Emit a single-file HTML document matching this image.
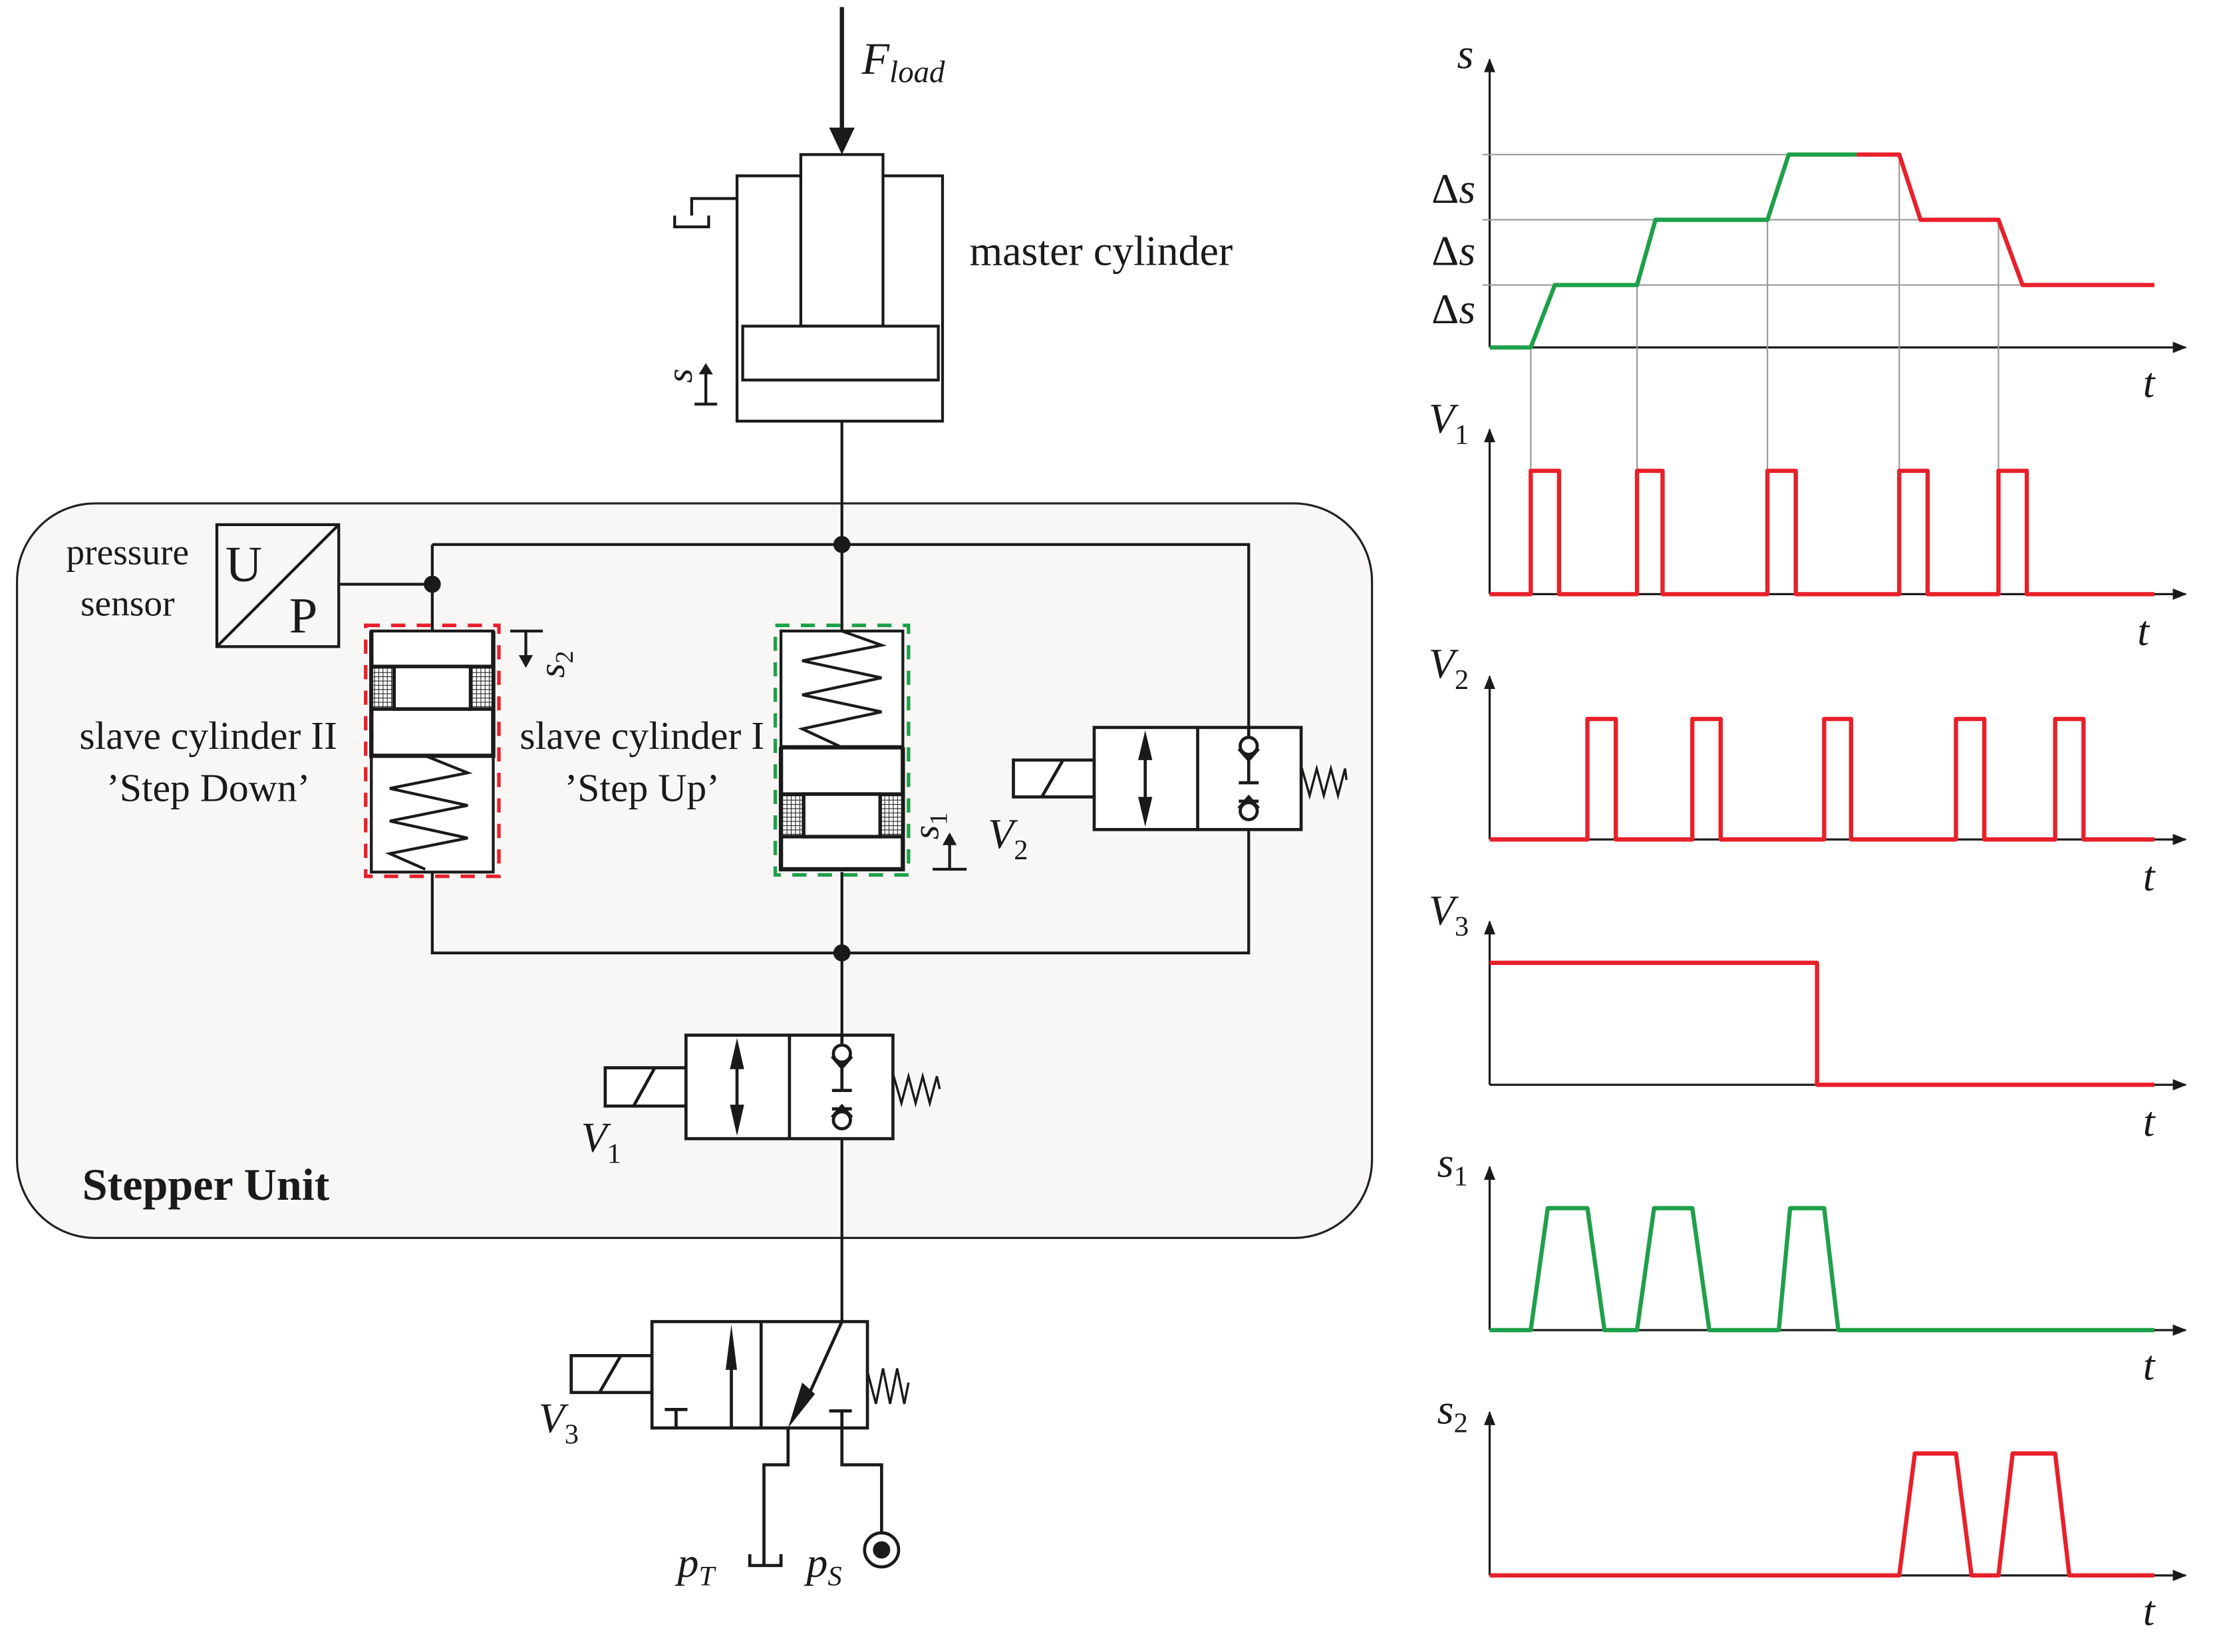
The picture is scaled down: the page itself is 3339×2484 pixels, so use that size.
<!DOCTYPE html>
<html><head><meta charset="utf-8"><style>html,body{margin:0;padding:0;background:#fff}svg{display:block}</style></head>
<body>
<svg width="3339" height="2484" viewBox="0 0 1567 1165" preserveAspectRatio="none" xmlns="http://www.w3.org/2000/svg" font-family="Liberation Serif, serif" fill="none" stroke="#1a1a1a" stroke-width="2">
<defs>
<pattern id="h" width="3" height="3" patternUnits="userSpaceOnUse"><rect width="3" height="3" fill="#fff" stroke="none"/><path d="M0 0H3M0 0V3" stroke="#222" stroke-width="1"/></pattern>
<marker id="a" markerWidth="10" markerHeight="10" refX="9" refY="5" orient="auto" markerUnits="userSpaceOnUse"><path d="M0 1L10 5L0 9z" fill="#1a1a1a" stroke="none"/></marker>
</defs>
<rect x="12" y="355" width="956" height="518" rx="55" fill="#f8f7f5" stroke="#222" stroke-width="1.5"/>
<line x1="594" y1="5" x2="594" y2="92" stroke-width="3"/>
<path d="M585 90L603 90L594 109z" fill="#1a1a1a" stroke="none"/>
<text x="608" y="52" font-size="32" font-style="italic" fill="#1a1a1a" stroke="none">F<tspan font-size="22" dy="6">load</tspan></text>
<rect x="520" y="124" width="145" height="173" fill="#fff"/>
<rect x="565" y="109" width="58" height="121" fill="#fff"/>
<rect x="524" y="230" width="138" height="38" fill="#fff"/>
<path d="M520 140H488V152M476 152V160H500V152"/>
<path d="M490 285H506M498 285V262" />
<path d="M493 264L503 264L498 256z" fill="#1a1a1a" stroke="none"/>
<text x="0" y="0" font-size="26" font-style="italic" fill="#1a1a1a" stroke="none" transform="translate(488,270) rotate(-90)">s</text>
<text x="684" y="187" font-size="30" fill="#1a1a1a" stroke="none">master cylinder</text>
<path d="M594 297V445M305 384H881V513M881 585V672H305V615M305 445V384M239 412H305M594 615V730M594 803V932"/>
<circle cx="594" cy="384" r="5" fill="#1a1a1a"/>
<circle cx="594" cy="672" r="5" fill="#1a1a1a"/>
<circle cx="305" cy="412" r="5" fill="#1a1a1a"/>
<rect x="153" y="370" width="86" height="86"/>
<line x1="153" y1="456" x2="239" y2="370"/>
<text x="159" y="410" font-size="36" fill="#1a1a1a" stroke="none">U</text>
<text x="204" y="446" font-size="36" fill="#1a1a1a" stroke="none">P</text>
<text x="90" y="398" font-size="26" text-anchor="middle" fill="#1a1a1a" stroke="none">pressure</text>
<text x="90" y="434" font-size="26" text-anchor="middle" fill="#1a1a1a" stroke="none">sensor</text>
<rect x="262" y="445" width="86" height="170" fill="#fff"/>
<path d="M262 445V533H348V445" stroke-width="3"/>
<rect x="262" y="470" width="86" height="30" fill="url(#h)" stroke-width="2.5"/>
<rect x="278" y="470" width="54" height="30" fill="#fff" stroke-width="2.5"/>
<polyline points="300,533 330,545 275,556 330,568 275,579 330,591 275,602 300,613"/>
<rect x="258" y="441" width="94" height="177" stroke="#e8202a" stroke-width="2.5" stroke-dasharray="10,8"/>
<path d="M360 445H383M371 445V464"/>
<path d="M366 462L376 462L371 471z" fill="#1a1a1a" stroke="none"/>
<text font-size="26" font-style="italic" fill="#1a1a1a" stroke="none" transform="translate(398,478) rotate(-90)">s<tspan font-size="18" dy="6" font-style="normal">2</tspan></text>
<text x="147" y="528" font-size="28" text-anchor="middle" fill="#1a1a1a" stroke="none">slave cylinder II</text>
<text x="147" y="565" font-size="28" text-anchor="middle" fill="#1a1a1a" stroke="none">’Step Down’</text>
<rect x="551" y="445" width="86" height="168" fill="#fff"/>
<polyline points="594,445 622,455 566,466 622,478 566,490 622,502 566,514 594,527"/>
<path d="M551 527H637M551 527V613H637V527" stroke-width="3"/>
<rect x="551" y="560" width="86" height="30" fill="url(#h)" stroke-width="2.5"/>
<rect x="567" y="560" width="54" height="30" fill="#fff" stroke-width="2.5"/>
<rect x="547" y="441" width="94" height="176" stroke="#1ea04a" stroke-width="2.5" stroke-dasharray="10,8"/>
<path d="M658 613H682M670 613V594"/>
<path d="M665 596L675 596L670 587z" fill="#1a1a1a" stroke="none"/>
<text font-size="26" font-style="italic" fill="#1a1a1a" stroke="none" transform="translate(662,592) rotate(-90)">s<tspan font-size="18" dy="6" font-style="normal">1</tspan></text>
<text x="453" y="528" font-size="28" text-anchor="middle" fill="#1a1a1a" stroke="none">slave cylinder I</text>
<text x="453" y="565" font-size="28" text-anchor="middle" fill="#1a1a1a" stroke="none">’Step Up’</text>
<g stroke-width="2.2">
<rect x="715" y="536" width="57" height="26" fill="#fff"/><line x1="735" y1="562" x2="750" y2="536"/>
<rect x="772" y="513" width="146" height="72" fill="#fff"/><line x1="845" y1="513" x2="845" y2="585"/>
<line x1="808" y1="530" x2="808" y2="570"/>
<path d="M808 515L803 536L813 536z M808 583L803 562L813 562z" fill="#1a1a1a" stroke="none"/>
<path d="M881 513V519M881 533V552M874 552H888M874 565H888M881 565V579"/>
<circle cx="881" cy="526" r="6" fill="#fff"/><circle cx="881" cy="572" r="6" fill="#fff"/>
<path d="M874 528L881 536L888 528M874 570L881 562L888 570"/>
<polyline points="918,540 924,561 929,542 934,561 939,542 944,561 949,542 950,550" stroke-width="1.6"/>
</g>
<text x="697" y="598" font-size="30" font-style="italic" fill="#1a1a1a" stroke="none">V<tspan font-size="20" dy="8" font-style="normal">2</tspan></text>
<g stroke-width="2.2">
<rect x="427" y="753" width="57" height="27" fill="#fff"/><line x1="447" y1="780" x2="462" y2="753"/>
<rect x="484" y="730" width="146" height="73" fill="#fff"/><line x1="557" y1="730" x2="557" y2="803"/>
<line x1="520" y1="748" x2="520" y2="788"/>
<path d="M520 732L515 754L525 754z M520 801L515 779L525 779z" fill="#1a1a1a" stroke="none"/>
<path d="M594 730V736M594 750V769M587 769H601M587 782H601M594 782V796"/>
<circle cx="594" cy="743" r="6" fill="#fff"/><circle cx="594" cy="790" r="6" fill="#fff"/>
<path d="M587 745L594 753L601 745M587 788L594 780L601 788"/>
<polyline points="630,757 636,778 641,759 646,778 651,759 656,778 661,759 663,768" stroke-width="1.6"/>
</g>
<text x="410" y="812" font-size="30" font-style="italic" fill="#1a1a1a" stroke="none">V<tspan font-size="20" dy="8" font-style="normal">1</tspan></text>
<text x="58" y="846" font-size="32" font-weight="bold" fill="#1a1a1a" stroke="none">Stepper Unit</text>
<g stroke-width="2.2">
<rect x="403" y="956" width="57" height="26" fill="#fff"/><line x1="423" y1="982" x2="438" y2="956"/>
<rect x="460" y="932" width="152" height="75" fill="#fff"/><line x1="537" y1="932" x2="537" y2="1007"/>
<path d="M469 994H485M477 994V1007"/>
<line x1="516" y1="1007" x2="516" y2="960"/>
<path d="M516 934L512 966L520 966z" fill="#1a1a1a" stroke="none"/>
<line x1="594" y1="932" x2="570" y2="985"/>
<path d="M556 1007L566 975L575 983z" fill="#1a1a1a" stroke="none"/>
<path d="M585 995H601M594 995V1007"/>
<polyline points="612,967 618,990 623,965 628,990 633,965 638,990 641,975" stroke-width="1.6"/>
<path d="M556 1007V1033H539V1104M594 1007V1033H622V1082"/>
<path d="M529 1096V1104H551V1096"/>
<circle cx="622" cy="1093" r="12"/><circle cx="622" cy="1093" r="5" fill="#1a1a1a"/>
</g>
<text x="380" y="1010" font-size="30" font-style="italic" fill="#1a1a1a" stroke="none">V<tspan font-size="20" dy="8" font-style="normal">3</tspan></text>
<text x="478" y="1112" font-size="30" font-style="italic" fill="#1a1a1a" stroke="none">p<tspan font-size="20" dy="6">T</tspan></text>
<text x="569" y="1112" font-size="30" font-style="italic" fill="#1a1a1a" stroke="none">p<tspan font-size="20" dy="6">S</tspan></text>
<g stroke-width="1.5">
<path d="M1051 245V42" marker-end="url(#a)"/><path d="M1051 245H1542" marker-end="url(#a)"/>
<path d="M1051 419V303" marker-end="url(#a)"/><path d="M1051 419H1542" marker-end="url(#a)"/>
<path d="M1051 592V477" marker-end="url(#a)"/><path d="M1051 592H1542" marker-end="url(#a)"/>
<path d="M1051 765V650" marker-end="url(#a)"/><path d="M1051 765H1542" marker-end="url(#a)"/>
<path d="M1051 938V823" marker-end="url(#a)"/><path d="M1051 938H1542" marker-end="url(#a)"/>
<path d="M1051 1111V996" marker-end="url(#a)"/><path d="M1051 1111H1542" marker-end="url(#a)"/>
</g>
<g stroke="#999" stroke-width="1">
<path d="M1046 109H1340M1046 155H1410M1046 201H1427M1080 245V332M1155 201V332M1247 155V332M1340 109V332M1410 155V332"/>
</g>
<g stroke-width="3" fill="none" stroke-linejoin="round">
<polyline stroke="#1ea04a" points="1051,245 1080,245 1097,201 1155,201 1168,155 1247,155 1262,109 1310,109"/>
<polyline stroke="#e8202a" points="1310,109 1340,109 1355,155 1410,155 1427,201 1520,201"/>
<polyline stroke="#e8202a" points="1051,419 1080,419 1080,332 1100,332 1100,419 1155,419 1155,332 1173,332 1173,419 1247,419 1247,332 1267,332 1267,419 1340,419 1340,332 1360,332 1360,419 1410,419 1410,332 1430,332 1430,419 1520,419"/>
<polyline stroke="#e8202a" points="1051,592 1120,592 1120,507 1140,507 1140,592 1194,592 1194,507 1214,507 1214,592 1287,592 1287,507 1306,507 1306,592 1380,592 1380,507 1400,507 1400,592 1450,592 1450,507 1470,507 1470,592 1520,592"/>
<polyline stroke="#e8202a" points="1051,679 1282,679 1282,765 1520,765"/>
<polyline stroke="#1ea04a" points="1051,938 1080,938 1092,852 1120,852 1132,938 1155,938 1167,852 1194,852 1206,938 1255,938 1263,852 1287,852 1297,938 1520,938"/>
<polyline stroke="#e8202a" points="1051,1111 1340,1111 1351,1025 1380,1025 1391,1111 1410,1111 1420,1025 1450,1025 1460,1111 1520,1111"/>
</g>
<g fill="#1a1a1a" stroke="none" font-style="italic" font-size="30">
<text x="1028" y="48">s</text>
<text x="1010" y="143" font-style="normal">Δ<tspan font-style="italic">s</tspan></text>
<text x="1010" y="187" font-style="normal">Δ<tspan font-style="italic">s</tspan></text>
<text x="1010" y="228" font-style="normal">Δ<tspan font-style="italic">s</tspan></text>
<text x="1512" y="280">t</text>
<text x="1008" y="305">V<tspan font-size="20" dy="8" font-style="normal">1</tspan></text>
<text x="1508" y="455">t</text>
<text x="1008" y="478">V<tspan font-size="20" dy="8" font-style="normal">2</tspan></text>
<text x="1512" y="628">t</text>
<text x="1008" y="652">V<tspan font-size="20" dy="8" font-style="normal">3</tspan></text>
<text x="1512" y="801">t</text>
<text x="1014" y="830">s<tspan font-size="20" dy="6" font-style="normal">1</tspan></text>
<text x="1512" y="973">t</text>
<text x="1014" y="1004">s<tspan font-size="20" dy="6" font-style="normal">2</tspan></text>
<text x="1512" y="1146">t</text>
</g>
</svg>
</body></html>
